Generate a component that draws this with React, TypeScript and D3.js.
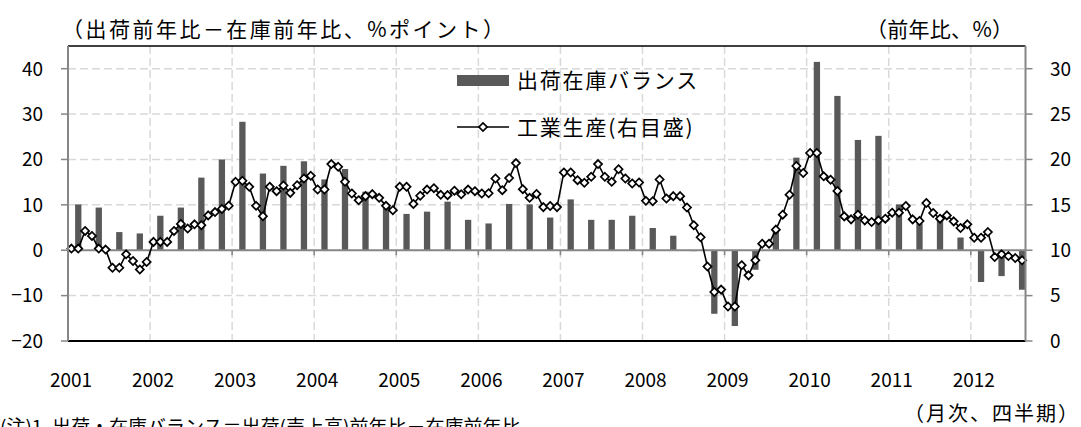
import React, { useEffect, useRef } from 'react';
import * as d3 from 'd3';

// quarterly 出荷在庫バランス (left axis, %pt), 2001Q1 .. 2012Q3
const balance = [
  10.1, 9.4, 4.0, 3.7, 7.6, 9.4, 16.0, 20.0,
  28.3, 16.9, 18.6, 19.6, 15.6, 17.9, 12.9, 9.8,
  8.0, 8.5, 10.7, 6.7, 5.9, 10.2, 10.1, 7.2,
  11.2, 6.7, 6.7, 7.6, 4.9, 3.2, -0.2,
  -14.0, -16.7, -4.3, 4.6, 20.4, 41.5, 34.0, 24.3, 25.2, 10.1, 5.9, 7.4, 2.8, -7.0, -5.7, -8.7,
];

// monthly 工業生産 (right axis, %), 2001/1 .. 2012/8
const production = [
  10.18, 10.18, 12.13, 11.58, 10.18, 10.07, 8.07, 8.07, 9.55, 8.82, 7.88, 8.71,
  10.92, 10.92, 10.92, 12.13, 12.9, 12.39, 12.85, 12.76, 13.84, 14.2, 14.55, 14.9,
  17.54, 17.65, 16.99, 14.89, 13.75, 16.99, 16.51, 17.13, 16.32, 17.17, 17.9, 18.2,
  16.69, 16.69, 19.49, 19.19, 17.54, 16.25, 15.51, 15.96, 16.18, 15.77, 14.89, 14.41,
  16.99, 16.99, 15.1, 16.0, 16.68, 16.84, 16.1, 16.07, 16.56, 16.16, 16.68, 16.51,
  16.25, 16.28, 17.9, 16.62, 17.95, 19.6, 16.73, 15.77, 16.2, 14.75, 14.87, 14.75,
  18.57, 18.57, 17.72, 17.43, 18.09, 19.49, 18.09, 17.54, 18.93, 17.9, 17.35, 17.46,
  15.44, 15.4, 17.79, 15.7, 15.96, 15.96, 14.71, 12.76, 11.43, 8.2, 5.4, 5.66,
  3.8, 3.8, 8.35, 7.23, 8.89, 10.72, 10.72, 12.27, 13.92, 16.12, 19.28, 18.51,
  20.71, 20.71, 18.14, 17.77, 16.53, 13.73, 13.4, 13.92, 13.29, 13.11, 13.29, 13.48,
  14.14, 14.14, 14.87, 13.4, 13.22, 15.2, 14.1, 13.48, 13.84, 13.18, 12.45, 12.85,
  11.38, 11.38, 12.0, 9.25, 9.55, 9.36, 9.14, 8.89,
];

const years = ['2001', '2002', '2003', '2004', '2005', '2006', '2007', '2008', '2009', '2010', '2011', '2012'];
const leftTicks = [-20, -10, 0, 10, 20, 30, 40];
const rightTicks = [0, 5, 10, 15, 20, 25, 30];

const FONT = '"Noto Sans CJK JP", "Noto Sans", sans-serif';

export default function App() {
  const ref = useRef<SVGSVGElement>(null);

  useEffect(() => {
    if (!ref.current) return;
    const svg = d3.select(ref.current);
    svg.selectAll('*').remove();

    const W = 1081;
    const H = 427;
    const left = 68;
    const right = 1025.5;
    const top = 46;
    const bottom = 341;

    const months = d3.range(production.length);
    const x = d3.scaleBand<number>().domain(months).range([left, right]).padding(0);
    const bw = x.bandwidth();
    const yL = d3.scaleLinear().domain([-20, 45]).range([bottom, top]);
    const yR = d3.scaleLinear().domain([0, 32.5]).range([bottom, top]);

    svg.attr('width', W).attr('height', H).attr('viewBox', `0 0 ${W} ${H}`)
      .style('font-family', FONT);

    // gridlines
    const grid = svg.append('g');
    grid.selectAll('.hg')
      .data(leftTicks.filter(d => d !== 0 && d !== -20))
      .enter().append('line')
      .attr('x1', left).attr('x2', right)
      .attr('y1', d => yL(d)).attr('y2', d => yL(d))
      .attr('stroke', '#d9d9d9').attr('stroke-width', 1.5).attr('stroke-dasharray', '8,4');
    grid.selectAll('.vg')
      .data(years.slice(1).map((_, i) => (i + 1) * 12))
      .enter().append('line')
      .attr('x1', d => x(d)!).attr('x2', d => x(d)!)
      .attr('y1', top).attr('y2', bottom)
      .attr('stroke', '#d9d9d9').attr('stroke-width', 1.5).attr('stroke-dasharray', '8,4');

    // bars (middle month of each quarter)
    const barW = bw * 0.92;
    svg.append('g').selectAll('rect')
      .data(balance)
      .enter().append('rect')
      .attr('x', (_, i) => x(i * 3 + 1)! + (bw - barW) / 2)
      .attr('width', barW)
      .attr('y', d => yL(Math.max(0, d)))
      .attr('height', d => Math.abs(yL(d) - yL(0)))
      .attr('fill', '#595959');

    // zero axis
    svg.append('line')
      .attr('x1', left).attr('x2', right)
      .attr('y1', yL(0)).attr('y2', yL(0))
      .attr('stroke', '#868686').attr('stroke-width', 2);
    svg.append('g').selectAll('line')
      .data(years.slice(1).map((_, i) => (i + 1) * 12))
      .enter().append('line')
      .attr('x1', d => x(d)!).attr('x2', d => x(d)!)
      .attr('y1', yL(0)).attr('y2', yL(0) + 5)
      .attr('stroke', '#868686').attr('stroke-width', 1.5);

    // production line
    const line = d3.line<number>()
      .x((_, i) => x(i)! + bw / 2)
      .y(d => yR(d));
    svg.append('path')
      .datum(production)
      .attr('d', line)
      .attr('fill', 'none')
      .attr('stroke', '#000')
      .attr('stroke-width', 1.6);

    const diamond = d3.symbol().type(d3.symbolDiamond2).size(42);
    svg.append('g').selectAll('path')
      .data(production)
      .enter().append('path')
      .attr('d', diamond)
      .attr('transform', (d, i) => `translate(${x(i)! + bw / 2},${yR(d)})`)
      .attr('fill', '#fff')
      .attr('stroke', '#000')
      .attr('stroke-width', 1.7);

    // frame
    svg.append('line').attr('x1', left).attr('x2', right).attr('y1', top).attr('y2', top)
      .attr('stroke', '#000').attr('stroke-width', 1.5);
    svg.append('line').attr('x1', left).attr('x2', right).attr('y1', bottom).attr('y2', bottom)
      .attr('stroke', '#000').attr('stroke-width', 2);

    // left axis
    svg.append('line').attr('x1', left).attr('x2', left).attr('y1', top).attr('y2', bottom)
      .attr('stroke', '#868686').attr('stroke-width', 2);
    const la = svg.append('g');
    la.selectAll('line').data(leftTicks).enter().append('line')
      .attr('x1', left - 7).attr('x2', left)
      .attr('y1', d => yL(d)).attr('y2', d => yL(d))
      .attr('stroke', '#868686').attr('stroke-width', 1.5);
    la.selectAll('text').data(leftTicks).enter().append('text')
      .attr('x', 43).attr('y', d => yL(d))
      .attr('dy', '0.36em')
      .attr('text-anchor', 'end')
      .attr('font-size', 19)
      .attr('fill', '#000')
      .text(d => (d < 0 ? '−' + Math.abs(d) : String(d)));

    // right axis
    svg.append('line').attr('x1', right).attr('x2', right).attr('y1', top).attr('y2', bottom)
      .attr('stroke', '#868686').attr('stroke-width', 2);
    const ra = svg.append('g');
    ra.selectAll('line').data(rightTicks).enter().append('line')
      .attr('x1', right).attr('x2', right + 7)
      .attr('y1', d => yR(d)).attr('y2', d => yR(d))
      .attr('stroke', '#868686').attr('stroke-width', 1.5);
    ra.selectAll('text').data(rightTicks).enter().append('text')
      .attr('x', 1050).attr('y', d => yR(d))
      .attr('dy', '0.36em')
      .attr('font-size', 19)
      .attr('fill', '#000')
      .text(d => String(d));

    // year labels
    svg.append('g').selectAll('text')
      .data(years)
      .enter().append('text')
      .attr('x', (_, i) => x(i * 12)! + 3)
      .attr('y', 380)
      .attr('dy', '0.36em')
      .attr('text-anchor', 'middle')
      .attr('font-size', 19)
      .attr('fill', '#000')
      .text(d => d);

    // unit titles
    svg.append('text').attr('x', 62).attr('y', 29).attr('dy', '0.36em')
      .attr('font-size', 21).attr('textLength', 442).attr('lengthAdjust', 'spacing').attr('fill', '#000')
      .text('（出荷前年比－在庫前年比、%ポイント）');
    svg.append('text').attr('x', 866).attr('y', 29).attr('dy', '0.36em')
      .attr('font-size', 21).attr('textLength', 147).attr('lengthAdjust', 'spacing').attr('fill', '#000')
      .text('（前年比、%）');
    svg.append('text').attr('x', 904).attr('y', 414).attr('dy', '0.36em')
      .attr('font-size', 20).attr('textLength', 174).attr('lengthAdjust', 'spacing').attr('fill', '#000')
      .text('（月次、四半期）');
    svg.append('text').attr('x', 0).attr('y', 434)
      .attr('font-size', 19).attr('fill', '#000')
      .text('(注)1. 出荷・在庫バランス＝出荷(売上高)前年比－在庫前年比');

    // legend
    const lg = svg.append('g');
    lg.append('rect').attr('x', 457).attr('y', 75).attr('width', 52).attr('height', 11).attr('fill', '#595959');
    lg.append('text').attr('x', 517).attr('y', 80).attr('dy', '0.36em')
      .attr('font-size', 21).attr('letter-spacing', 1.8).attr('fill', '#000').text('出荷在庫バランス');
    lg.append('line').attr('x1', 457).attr('x2', 509).attr('y1', 127).attr('y2', 127)
      .attr('stroke', '#000').attr('stroke-width', 1.6);
    lg.append('path').attr('d', diamond).attr('transform', 'translate(483,127)')
      .attr('fill', '#fff').attr('stroke', '#000').attr('stroke-width', 1.7);
    lg.append('text').attr('x', 517).attr('y', 127).attr('dy', '0.36em')
      .attr('font-size', 21).attr('letter-spacing', 1.8).attr('fill', '#000').text('工業生産(右目盛)');
  }, []);

  return (
    <svg ref={ref} style={{ position: 'absolute', left: 0, top: 0, display: 'block', background: '#fff' }} />
  );
}
